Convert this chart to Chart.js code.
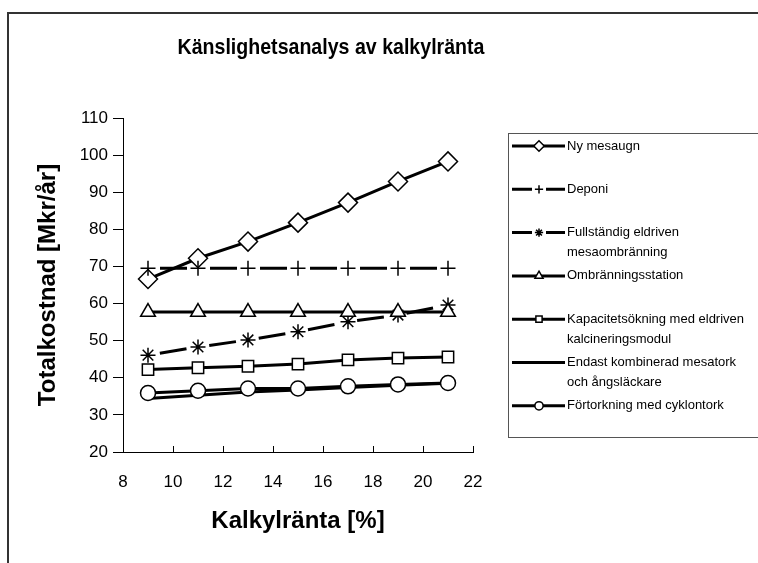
<!DOCTYPE html>
<html lang="sv">
<head>
  <meta charset="UTF-8">
  <title>Känslighetsanalys av kalkylränta</title>
  <script src="https://cdn.jsdelivr.net/npm/chart.js"></script>
  <style>
    body { margin: 0; background: #fff; }
    canvas { display: block; }
  </style>
</head>
<body>
  <canvas id="chart" width="758" height="563"></canvas>
  <script>
    // Data
    const chartTitle = 'Känslighetsanalys av kalkylränta';
    const xTitle = 'Kalkylränta [%]';
    const yTitle = 'Totalkostnad [Mkr/år]';
    const interestRates = [9, 11, 13, 15, 17, 19, 21];

    const nyMesaugn   = [66.6, 72.2, 76.7, 81.8, 87.2, 92.9, 98.3];
    const deponi      = [69.5, 69.5, 69.5, 69.5, 69.5, 69.5, 69.5];
    const fullstandig = [46.1, 48.3, 50.2, 52.4, 55.1, 56.9, 59.6];
    const ombranning  = [57.7, 57.7, 57.7, 57.7, 57.7, 57.7, 57.7];
    const kapacitet   = [42.2, 42.7, 43.1, 43.7, 44.8, 45.3, 45.6];
    const endast      = [34.4, 35.3, 36.2, 36.7, 37.4, 38.0, 38.5];
    const fortorkning = [35.9, 36.5, 37.1, 37.1, 37.7, 38.2, 38.6];

    const seriesNames = [
      'Ny mesaugn',
      'Deponi',
      'Fullständig eldriven\nmesaombränning',
      'Ombränningsstation',
      'Kapacitetsökning med eldriven\nkalcineringsmodul',
      'Endast kombinerad mesatork\noch ångsläckare',
      'Förtorkning med cyklontork'
    ];
    const xMin = 8, xMax = 22, xStep = 2;
    const yMin = 20, yMax = 110, yStep = 10;

    const FONT = 'Arial, "Liberation Sans", sans-serif';

    function series(index, values, style, radius, dashed) {
      return {
        label: seriesNames[index],
        data: values.map((v, i) => ({ x: interestRates[i], y: v })),
        borderColor: '#000',
        borderWidth: 3,
        borderDash: dashed ? [27, 23] : [],
        borderDashOffset: dashed ? 38 : 0,
        pointStyle: style,
        pointRadius: radius,
        pointBackgroundColor: '#fff',
        pointBorderColor: '#000',
        pointBorderWidth: 1.5,
        tension: 0,
        fill: false,
        order: 10 - index,
        legendRadius: style ? Math.max(4, radius * 0.55) : 0,
        dashed: dashed
      };
    }

    const datasets = [
      series(0, nyMesaugn, 'rectRot', 9.5, false),
      series(1, deponi, 'cross', 7.5, true),
      series(2, fullstandig, 'star', 7.5, true),
      series(3, ombranning, 'triangle', 8.5, false),
      series(4, kapacitet, 'rect', 8, false),
      series(5, endast, false, 0, false),
      series(6, fortorkning, 'circle', 7.5, false)
    ];

    function marker(ctx, style, r, x, y) {
      if (!style) return;
      ctx.fillStyle = '#fff';
      ctx.strokeStyle = '#000';
      ctx.lineWidth = 1.5;
      ctx.setLineDash([]);
      if (Chart.helpers && Chart.helpers.drawPoint) {
        Chart.helpers.drawPoint(ctx, { pointStyle: style, radius: r, borderWidth: 1.5, rotation: 0 }, x, y);
      }
    }

    // frame, title and the hand-made legend box
    const decorations = {
      id: 'decorations',
      beforeDraw(chart) {
        const ctx = chart.ctx;
        ctx.save();
        ctx.fillStyle = '#fff';
        ctx.fillRect(0, 0, chart.width, chart.height);
        ctx.strokeStyle = '#333';
        ctx.lineWidth = 2;
        ctx.strokeRect(8, 13, chart.width + 20, chart.height + 20);
        // title is a little condensed in the original
        ctx.translate(331, 48);
        ctx.scale(0.89, 1);
        ctx.fillStyle = '#000';
        ctx.font = 'bold 22px ' + FONT;
        ctx.textAlign = 'center';
        ctx.textBaseline = 'middle';
        ctx.fillText(chartTitle, 0, 0);
        ctx.restore();
      },
      afterDraw(chart) {
        const ctx = chart.ctx;
        ctx.save();
        ctx.strokeStyle = '#555';
        ctx.lineWidth = 1;
        ctx.strokeRect(508.5, 133.5, 300, 304);
        chart.data.datasets.forEach((ds, i) => {
          const y = 146 + i * 43.3;
          ctx.strokeStyle = '#000';
          ctx.lineWidth = 3;
          ctx.beginPath();
          if (ds.dashed) {
            ctx.moveTo(512, y); ctx.lineTo(532, y);
            ctx.moveTo(546, y); ctx.lineTo(565, y);
          } else {
            ctx.moveTo(512, y); ctx.lineTo(565, y);
          }
          ctx.stroke();
          marker(ctx, ds.pointStyle, ds.legendRadius, 539, y);
          ctx.fillStyle = '#000';
          ctx.font = '13px ' + FONT;
          ctx.textAlign = 'left';
          ctx.textBaseline = 'middle';
          ds.label.split('\n').forEach((line, k) => ctx.fillText(line, 567, y + k * 20));
        });
        ctx.restore();
      }
    };

    new Chart(document.getElementById('chart'), {
      type: 'line',
      data: { datasets: datasets },
      plugins: [decorations],
      options: {
        responsive: false,
        animation: false,
        events: [],
        layout: { padding: { top: 118, right: 285, bottom: 0, left: 0 } },
        plugins: { legend: { display: false }, tooltip: { enabled: false }, title: { display: false } },
        scales: {
          x: {
            type: 'linear',
            min: xMin, max: xMax,
            afterFit: s => { s.height = 111; },
            border: { color: '#000', width: 1 },
            grid: { drawOnChartArea: false, color: '#000', tickLength: -6 },
            ticks: { stepSize: xStep, color: '#000', font: { family: FONT, size: 17 }, padding: 26, maxRotation: 0 },
            title: { display: true, text: xTitle, color: '#000', font: { family: FONT, size: 24, weight: 'bold' }, padding: { top: 0, bottom: 27 } }
          },
          y: {
            min: yMin, max: yMax,
            afterFit: s => { s.width = 123; },
            border: { color: '#000', width: 1 },
            grid: { drawOnChartArea: false, color: '#000', tickLength: 10 },
            ticks: { stepSize: yStep, color: '#000', font: { family: FONT, size: 17 }, padding: 5 },
            title: { display: true, text: yTitle, color: '#000', font: { family: FONT, size: 24, weight: 'bold' }, padding: { top: 34, bottom: 0 } }
          }
        }
      }
    });
  </script>
</body>
</html>
